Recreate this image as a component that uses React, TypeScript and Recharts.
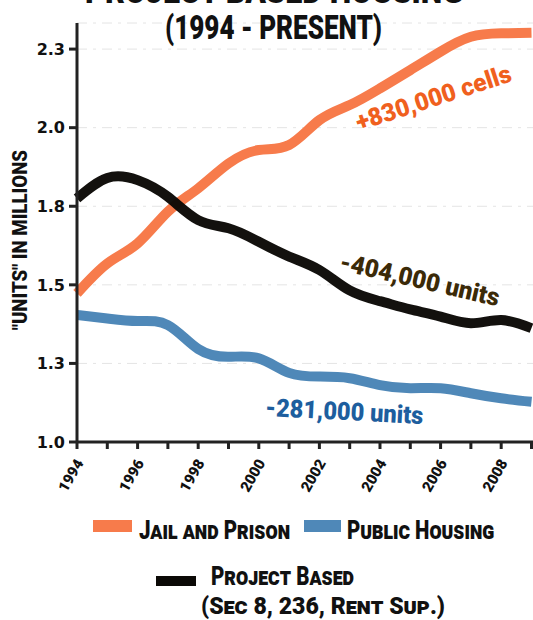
import React from 'react';
import { LineChart, Line, XAxis, YAxis, CartesianGrid } from 'recharts';

const years = [1994, 1995, 1996, 1997, 1998, 1999, 2000, 2001, 2002, 2003, 2004, 2005, 2006, 2007, 2008, 2009];
// millions of "units"
const jailAndPrison = [1.473, 1.568, 1.632, 1.733, 1.807, 1.886, 1.929, 1.945, 2.024, 2.072, 2.125, 2.183, 2.242, 2.289, 2.3, 2.302];
const publicHousing = [1.404, 1.393, 1.385, 1.372, 1.296, 1.271, 1.266, 1.22, 1.208, 1.203, 1.181, 1.171, 1.171, 1.155, 1.139, 1.128];
const projectBased = [1.775, 1.84, 1.833, 1.78, 1.706, 1.68, 1.637, 1.59, 1.547, 1.482, 1.448, 1.422, 1.399, 1.378, 1.388, 1.362];
const yTicks = [1, 1.25, 1.5, 1.75, 2, 2.25];

const data = years.map((year, i) => ({
    year,
    jail: jailAndPrison[i],
    publicHousing: publicHousing[i],
    projectBased: projectBased[i],
}));

const ORANGE = '#F77B4B';
const BLUE = '#4F88B8';
const BLACK = '#0B0906';
const AXIS = '#222';
const HEAVY = 'Roboto, "Liberation Sans", sans-serif';
const SANS = '"DejaVu Sans", "Liberation Sans", sans-serif';

const YearTick = (props: any) => {
    const { x, y, payload } = props;
    const label = payload.value % 2 === 0 && payload.value < 2009 ? String(payload.value) : '';
    return (
        <g transform={`translate(${x + 7},${y + 12})`}>
            <text
                x={0}
                y={0}
                textAnchor="end"
                transform="rotate(-60)"
                fill="#111"
                fontFamily={HEAVY}
                fontWeight={900}
                fontSize={15}
            >
                {label}
            </text>
        </g>
    );
};

// text squeezed to a measured width (the original uses a condensed display face)
const Fit = (props: any) => {
    const { x, y, w, size, rotate = 0, fill = '#111', caps = false, anchor = 'start', children } = props;
    return (
        <text
            transform={`translate(${x},${y}) rotate(${rotate})`}
            textAnchor={anchor}
            textLength={w}
            lengthAdjust="spacingAndGlyphs"
            fontFamily={HEAVY}
            fontWeight={900}
            fontSize={size}
            fill={fill}
            style={caps ? { fontVariant: 'small-caps' } : undefined}
        >
            {children}
        </text>
    );
};

export default function App() {
    return (
        <div style={{ position: 'absolute', left: 0, top: 0, width: 533, height: 620, background: '#fff' }}>
            <LineChart
                width={533}
                height={620}
                data={data}
                margin={{ top: 23, right: 0, bottom: 118, left: 0 }}
            >
                <CartesianGrid vertical={false} stroke="#e4e4e4" strokeDasharray="10 6 3 6" />
                <XAxis
                    dataKey="year"
                    type="number"
                    domain={[1994, 2009.05]}
                    ticks={years}
                    interval={0}
                    height={60}
                    stroke={AXIS}
                    strokeWidth={3}
                    tickSize={7}
                    tick={<YearTick />}
                />
                <YAxis
                    type="number"
                    domain={[1, 2.333]}
                    ticks={yTicks}
                    width={77}
                    stroke={AXIS}
                    strokeWidth={3}
                    tickSize={8}
                    tickMargin={4}
                    tickFormatter={(v: number) => v.toFixed(1)}
                    tick={{ fill: '#111', fontSize: 16, fontWeight: 'bold', fontFamily: SANS }}
                />
                <Line type="natural" dataKey="jail" stroke={ORANGE} strokeWidth={10} dot={false} isAnimationActive={false} />
                <Line type="natural" dataKey="publicHousing" stroke={BLUE} strokeWidth={10} dot={false} isAnimationActive={false} />
                <Line type="natural" dataKey="projectBased" stroke={BLACK} strokeWidth={10} strokeOpacity={0.97} dot={false} isAnimationActive={false} />
            </LineChart>

            <svg
                width={533}
                height={620}
                style={{ position: 'absolute', left: 0, top: 0, pointerEvents: 'none' }}
            >
                {/* title, top line cut off by the crop as in the original */}
                <Fit x={85} y={3} w={378} size={34}>PROJECT BASED HOUSING</Fit>
                <Fit x={165} y={39} w={217} size={34}>(1994 - PRESENT)</Fit>

                <Fit x={27} y={330} w={180} size={20} rotate={-90}>"UNITS" IN MILLIONS</Fit>

                {/* annotations */}
                <Fit x={436} y={106} w={162} size={25} rotate={-18} anchor="middle" fill="#F0601E">+830,000 cells</Fit>
                <Fit x={418} y={288} w={163} size={25} rotate={13} anchor="middle" fill="#3B2A08">-404,000 units</Fit>
                <Fit x={344} y={420} w={158} size={25} rotate={3} anchor="middle" fill="#1D5E9E">-281,000 units</Fit>

                {/* legend */}
                <rect x={93} y={520} width={39} height={12} fill={ORANGE} />
                <Fit x={139} y={539} w={151} size={25} caps>Jail and Prison</Fit>
                <rect x={304} y={520} width={37} height={12} fill={BLUE} />
                <Fit x={347} y={539} w={147} size={25} caps>Public Housing</Fit>
                <rect x={156} y={576} width={40} height={10} fill={BLACK} />
                <Fit x={211} y={585} w={143} size={25} caps>Project Based</Fit>
                <Fit x={201} y={614} w={244} size={23} caps>(Sec 8, 236, Rent Sup.)</Fit>
            </svg>
        </div>
    );
}
